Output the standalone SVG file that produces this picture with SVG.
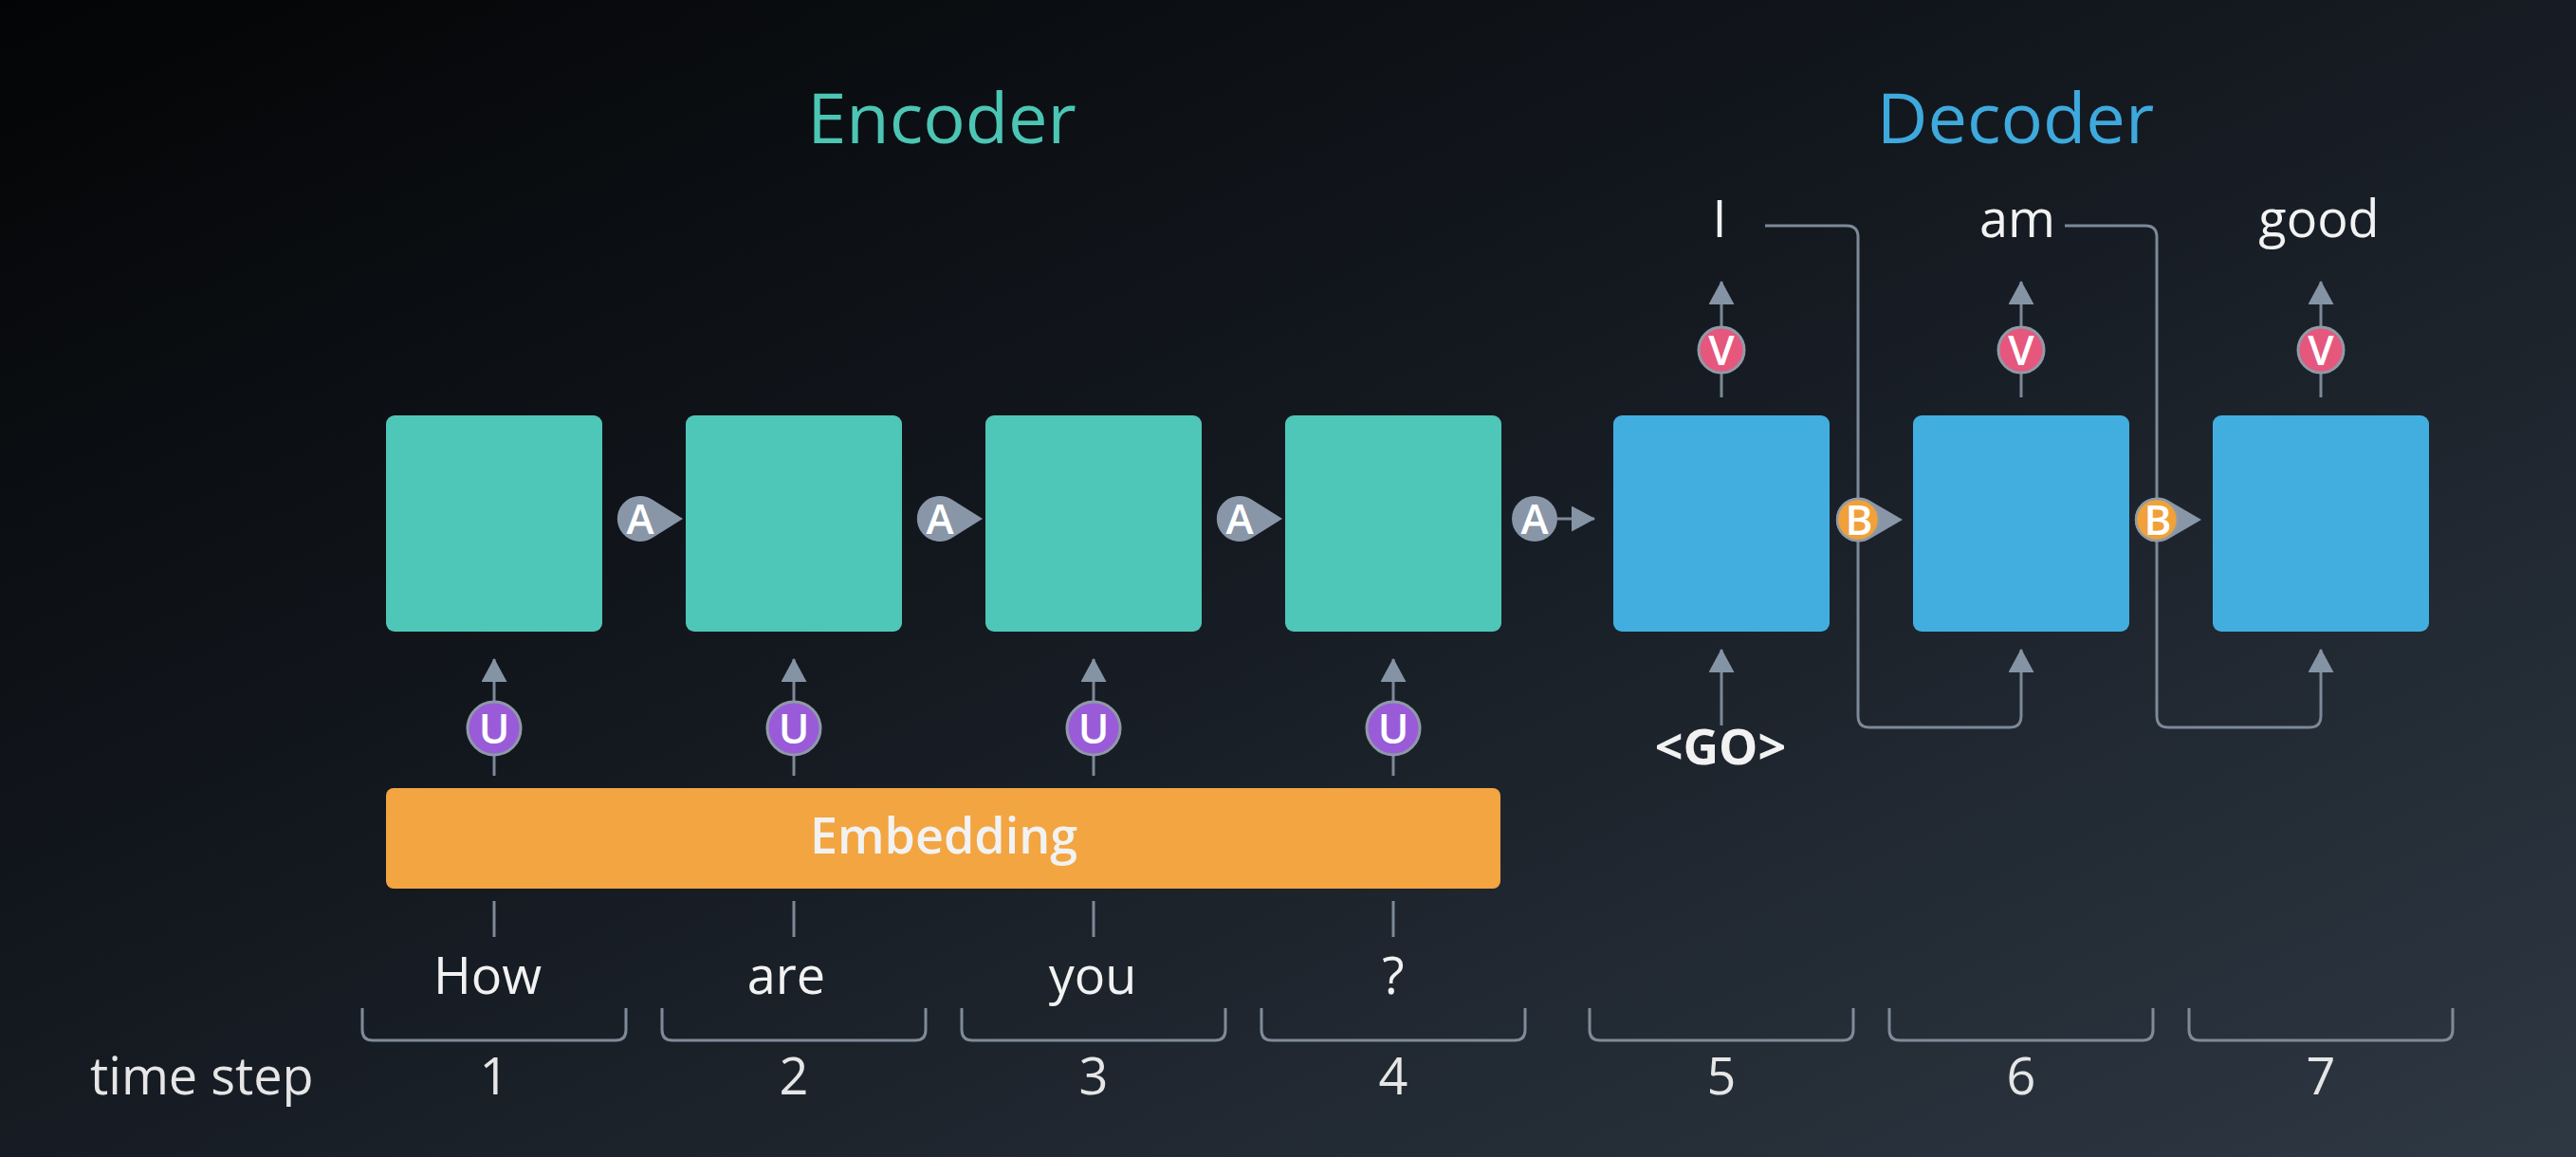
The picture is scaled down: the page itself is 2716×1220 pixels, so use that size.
<svg xmlns="http://www.w3.org/2000/svg" width="2716" height="1220" viewBox="0 0 2716 1220">
<defs>
<linearGradient id="bg" x1="0" y1="0" x2="1" y2="1">
<stop offset="0" stop-color="#030405"/>
<stop offset="0.45" stop-color="#141920"/>
<stop offset="1" stop-color="#2e3843"/>
</linearGradient>
<marker id="ah" markerUnits="userSpaceOnUse" markerWidth="25" markerHeight="27" refX="24" refY="13.5" orient="auto" viewBox="0 0 25 27">
<path d="M0,0 L25,13.5 L0,27 Z" fill="#8594a5"/>
</marker>
<style>
.enc{fill:#4fc7b8}
.dec{fill:#42aedf}
.ln{stroke:#7c8998;stroke-width:3;fill:none}
.br{stroke:#7f8b99;stroke-width:3;fill:none}
.txt{font-family:"Open Sans","Liberation Sans",sans-serif;fill:#f2f2f2;text-anchor:middle}
.w{font-size:54px}
.num{font-size:54px;fill:#e6e6e6}
.title{font-family:"Open Sans","Liberation Sans",sans-serif;font-size:74px;text-anchor:middle}
.lbl{font-family:"Open Sans","Liberation Sans",sans-serif;font-size:44px;font-weight:600;fill:#ffffff;text-anchor:middle}
.tear{fill:#8896a8}
.u{fill:#9a5bd8;stroke:#8f9aa8;stroke-width:3}
.v{fill:#e5577c;stroke:#8f9aa8;stroke-width:3}
.b{fill:#f1a139;stroke:#8f9aa8;stroke-width:2.5}
</style>
</defs>
<rect width="2716" height="1220" fill="url(#bg)"/>

<text class="title" x="993" y="151" fill="#4cc5b5">Encoder</text>
<text class="title" x="2125" y="151" fill="#3ea9dc">Decoder</text>

<g id="connectors">
<line class="ln" x1="521" y1="818" x2="521" y2="695" marker-end="url(#ah)"/>
<line class="ln" x1="837" y1="818" x2="837" y2="695" marker-end="url(#ah)"/>
<line class="ln" x1="1153" y1="818" x2="1153" y2="695" marker-end="url(#ah)"/>
<line class="ln" x1="1469" y1="818" x2="1469" y2="695" marker-end="url(#ah)"/>
<line class="ln" x1="521" y1="950" x2="521" y2="988"/>
<line class="ln" x1="837" y1="950" x2="837" y2="988"/>
<line class="ln" x1="1153" y1="950" x2="1153" y2="988"/>
<line class="ln" x1="1469" y1="950" x2="1469" y2="988"/>
<line class="ln" x1="1815" y1="419" x2="1815" y2="297" marker-end="url(#ah)"/>
<line class="ln" x1="2131" y1="419" x2="2131" y2="297" marker-end="url(#ah)"/>
<line class="ln" x1="2447" y1="419" x2="2447" y2="297" marker-end="url(#ah)"/>
<line class="ln" x1="1815" y1="765" x2="1815" y2="685" marker-end="url(#ah)"/>
<path class="ln" d="M1861,238 H1947 Q1959,238 1959,250 V755 Q1959,767 1971,767 H2119 Q2131,767 2131,755 V685" marker-end="url(#ah)"/>
<path class="ln" d="M2177,238 H2262 Q2274,238 2274,250 V755 Q2274,767 2286,767 H2435 Q2447,767 2447,755 V685" marker-end="url(#ah)"/>
<line class="ln" x1="1630" y1="547" x2="1681" y2="547" marker-end="url(#ah)"/>
</g>

<g id="enc1"><rect class="enc" x="407" y="438" width="228" height="228" rx="9"/></g>
<g id="enc2"><rect class="enc" x="723" y="438" width="228" height="228" rx="9"/></g>
<g id="enc3"><rect class="enc" x="1039" y="438" width="228" height="228" rx="9"/></g>
<g id="enc4"><rect class="enc" x="1355" y="438" width="228" height="228" rx="9"/></g>
<g id="dec5"><rect class="dec" x="1701" y="438" width="228" height="228" rx="9"/></g>
<g id="dec6"><rect class="dec" x="2017" y="438" width="228" height="228" rx="9"/></g>
<g id="dec7"><rect class="dec" x="2333" y="438" width="228" height="228" rx="9"/></g>

<g id="embedding">
<rect x="407" y="831" width="1175" height="106" rx="8" fill="#f2a541"/>
<text class="txt" x="995" y="900" font-size="52" font-weight="600" fill="#ffffff">Embedding</text>
</g>

<g id="A1"><path class="tear" d="M720,547 L688.1,527 A24,24 0 1,0 688.1,567 Z"/><text class="lbl" x="675" y="563">A</text></g>
<g id="A2"><path class="tear" d="M1036,547 L1004.1,527 A24,24 0 1,0 1004.1,567 Z"/><text class="lbl" x="991" y="563">A</text></g>
<g id="A3"><path class="tear" d="M1352,547 L1320.1,527 A24,24 0 1,0 1320.1,567 Z"/><text class="lbl" x="1307" y="563">A</text></g>
<g id="A4"><circle class="tear" cx="1618" cy="547" r="24"/><text class="lbl" x="1618" y="563">A</text></g>

<g id="B1"><path class="tear" d="M2006,548 L1972.6,528.5 A23.5,23.5 0 1,0 1972.6,567.5 Z"/><circle class="b" cx="1959" cy="548" r="22"/><text class="lbl" x="1960" y="564">B</text></g>
<g id="B2"><path class="tear" d="M2321,548 L2287.6,528.5 A23.5,23.5 0 1,0 2287.6,567.5 Z"/><circle class="b" cx="2274" cy="548" r="22"/><text class="lbl" x="2275" y="564">B</text></g>

<g id="U1"><circle class="u" cx="521" cy="768" r="28"/><text class="lbl" x="521" y="784">U</text></g>
<g id="U2"><circle class="u" cx="837" cy="768" r="28"/><text class="lbl" x="837" y="784">U</text></g>
<g id="U3"><circle class="u" cx="1153" cy="768" r="28"/><text class="lbl" x="1153" y="784">U</text></g>
<g id="U4"><circle class="u" cx="1469" cy="768" r="28"/><text class="lbl" x="1469" y="784">U</text></g>

<g id="V5"><circle class="v" cx="1815" cy="369" r="24"/><text class="lbl" x="1815" y="385">V</text></g>
<g id="V6"><circle class="v" cx="2131" cy="369" r="24"/><text class="lbl" x="2131" y="385">V</text></g>
<g id="V7"><circle class="v" cx="2447" cy="369" r="24"/><text class="lbl" x="2447" y="385">V</text></g>

<g id="out-I"><text class="txt w" x="1813" y="250">I</text></g>
<g id="out-am"><text class="txt w" x="2127" y="250">am</text></g>
<g id="out-good"><text class="txt w" x="2445" y="250">good</text></g>
<g id="go"><text class="txt" x="1814" y="806" font-size="52" font-weight="700" fill="#ffffff">&lt;GO&gt;</text></g>

<g id="in-how"><text class="txt w" x="514" y="1048">How</text></g>
<g id="in-are"><text class="txt w" x="829" y="1048">are</text></g>
<g id="in-you"><text class="txt w" x="1152" y="1048">you</text></g>
<g id="in-q"><text class="txt w" x="1469" y="1048">?</text></g>

<g id="brackets">
<path class="br" d="M382,1063 V1086 Q382,1097 393,1097 H649 Q660,1097 660,1086 V1063"/>
<path class="br" d="M698,1063 V1086 Q698,1097 709,1097 H965 Q976,1097 976,1086 V1063"/>
<path class="br" d="M1014,1063 V1086 Q1014,1097 1025,1097 H1281 Q1292,1097 1292,1086 V1063"/>
<path class="br" d="M1330,1063 V1086 Q1330,1097 1341,1097 H1597 Q1608,1097 1608,1086 V1063"/>
<path class="br" d="M1676,1063 V1086 Q1676,1097 1687,1097 H1943 Q1954,1097 1954,1086 V1063"/>
<path class="br" d="M1992,1063 V1086 Q1992,1097 2003,1097 H2259 Q2270,1097 2270,1086 V1063"/>
<path class="br" d="M2308,1063 V1086 Q2308,1097 2319,1097 H2575 Q2586,1097 2586,1086 V1063"/>
</g>

<g id="timesteps">
<text class="txt num" x="95" y="1154" style="text-anchor:start">time step</text>
<text class="txt num" x="521" y="1154">1</text>
<text class="txt num" x="837" y="1154">2</text>
<text class="txt num" x="1153" y="1154">3</text>
<text class="txt num" x="1469" y="1154">4</text>
<text class="txt num" x="1815" y="1154">5</text>
<text class="txt num" x="2131" y="1154">6</text>
<text class="txt num" x="2447" y="1154">7</text>
</g>
</svg>
